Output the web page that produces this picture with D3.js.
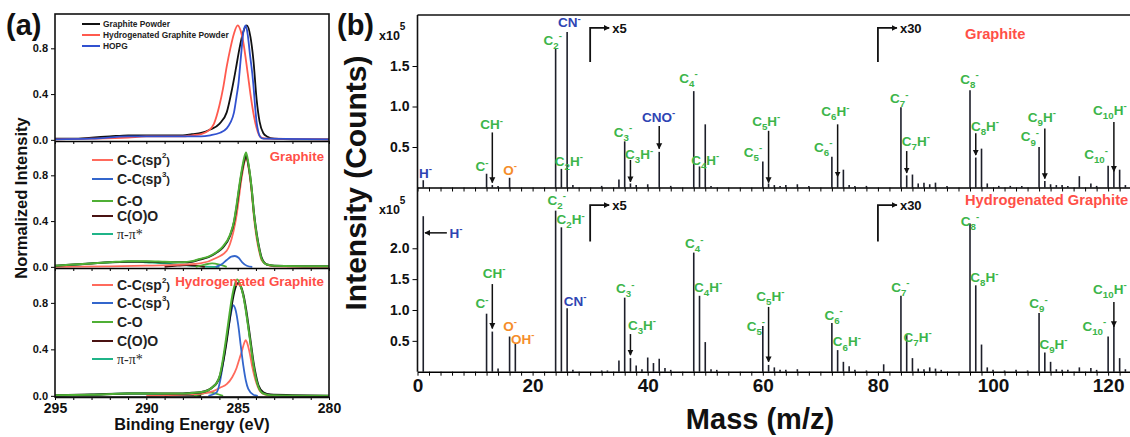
<!DOCTYPE html>
<html>
<head>
<meta charset="utf-8">
<script src="https://cdn.jsdelivr.net/npm/d3@7/dist/d3.min.js"></script>
<style>
  body { margin: 0; background: #fff; }
  svg text { font-family: Arial, "Liberation Sans", sans-serif; font-weight: bold; }
</style>
</head>
<body>
<svg id="chart" width="1130" height="437"></svg>
<script>
// ===== (a) XPS C1s : [binding energy (eV), normalized intensity] =====
const beTicks = [295, 290, 285, 280];
const normTicks = [0.0, 0.4, 0.8];

const powderNames = ["Graphite Powder", "Hydrogenated Graphite Powder", "HOPG"];
const graphitePowder = [[295,0.01],[294,0.01],[293,0.02],[292,0.03],[291,0.04],[290,0.04],[289,0.04],[288,0.04],[287.5,0.05],[287,0.06],[286.5,0.09],[286,0.14],[285.6,0.24],[285.3,0.45],[285.1,0.62],[284.9,0.8],[284.7,0.94],[284.5,1.0],[284.3,0.9],[284.14,0.7],[283.96,0.35],[283.8,0.16],[283.6,0.06],[283.4,0.03],[283,0.01],[282,0.005],[280,0.005]];
const hydroPowder = [[295,0.005],[293,0.01],[291,0.02],[290,0.03],[289,0.03],[288,0.03],[287.5,0.04],[287,0.05],[286.6,0.08],[286.3,0.14],[286,0.3],[285.8,0.45],[285.6,0.64],[285.4,0.8],[285.2,0.93],[285,1.0],[284.85,0.96],[284.7,0.86],[284.45,0.58],[284.3,0.4],[284.1,0.2],[283.9,0.07],[283.7,0.02],[283.4,0.01],[280,0.005]];
const hopg = [[295,0.005],[293,0.01],[291,0.03],[290,0.03],[289,0.03],[288,0.03],[287,0.03],[286.5,0.04],[286,0.06],[285.6,0.1],[285.4,0.15],[285.2,0.24],[285.06,0.38],[284.95,0.5],[284.87,0.64],[284.78,0.8],[284.69,0.94],[284.56,1.0],[284.45,0.92],[284.33,0.75],[284.2,0.58],[284.14,0.48],[284.05,0.3],[283.96,0.15],[283.87,0.07],[283.78,0.03],[283.6,0.01],[280,0.005]];

const fitNames = ["C-C(sp^2)", "C-C(sp^3)", "C-O", "C(O)O", "π-π*"];
// graphite fit
const gData = [[295,0.01],[294,0.02],[293,0.03],[292,0.04],[291,0.045],[290,0.045],[289,0.04],[288,0.04],[287.5,0.045],[287.06,0.065],[286.6,0.085],[286.15,0.125],[285.8,0.17],[285.42,0.27],[285.2,0.39],[285.06,0.52],[284.9,0.7],[284.78,0.82],[284.65,0.92],[284.54,0.97],[284.4,0.88],[284.24,0.69],[284.1,0.46],[283.96,0.29],[283.8,0.15],[283.69,0.08],[283.41,0.02],[283,0.01],[280,0.005]];
const gEnvelope = [[295,0.01],[294,0.02],[293,0.03],[292,0.04],[291,0.05],[290,0.05],[289,0.045],[288,0.04],[287.5,0.05],[287.06,0.07],[286.6,0.09],[286.15,0.13],[285.8,0.18],[285.42,0.28],[285.2,0.4],[285.06,0.54],[284.9,0.72],[284.78,0.84],[284.65,0.95],[284.54,1.0],[284.4,0.89],[284.24,0.69],[284.1,0.45],[283.96,0.28],[283.8,0.14],[283.69,0.07],[283.41,0.02],[283,0.01],[280,0.005]];
const gSp2 = [[295,0],[292,0.005],[290,0.01],[288,0.02],[287.06,0.03],[286.15,0.08],[285.6,0.14],[285.42,0.2],[285.06,0.45],[284.78,0.78],[284.6,0.93],[284.51,0.95],[284.4,0.86],[284.24,0.66],[284.1,0.42],[283.96,0.25],[283.8,0.12],[283.69,0.06],[283.41,0.02],[283,0.005],[280,0]];
const gSp3 = [[286.2,0],[285.9,0.02],[285.6,0.06],[285.35,0.09],[285.15,0.095],[284.95,0.08],[284.75,0.04],[284.5,0.01],[284.2,0]];
const gCO = [[287.3,0],[286.8,0.02],[286.4,0.03],[286,0.02],[285.6,0]];
const gCOO = [[289,0],[288.3,0.01],[287.8,0.015],[287.3,0.01],[286.8,0]];
const gPi = [[295,0.005],[294,0.015],[293,0.03],[292,0.04],[291,0.045],[290.5,0.045],[290,0.04],[289,0.03],[288,0.015],[287,0.005],[286,0]];
// hydrogenated graphite fit
const hData = [[295,0.005],[293,0.01],[291,0.02],[290,0.02],[289,0.02],[288,0.02],[287.5,0.025],[287.06,0.03],[286.6,0.05],[286.33,0.08],[286.15,0.11],[285.97,0.17],[285.8,0.29],[285.6,0.48],[285.45,0.65],[285.33,0.78],[285.15,0.92],[284.98,0.97],[284.85,0.95],[284.69,0.87],[284.55,0.75],[284.42,0.61],[284.28,0.45],[284.14,0.29],[284,0.17],[283.87,0.09],[283.6,0.03],[283.2,0.01],[282,0.005],[280,0]];
const hEnvelope = [[295,0.005],[293,0.01],[291,0.02],[290,0.02],[289,0.02],[288,0.02],[287.5,0.025],[287.06,0.03],[286.6,0.05],[286.33,0.08],[286.15,0.11],[285.97,0.18],[285.8,0.32],[285.6,0.53],[285.45,0.7],[285.33,0.83],[285.15,0.96],[285.02,1.0],[284.85,0.95],[284.69,0.86],[284.55,0.73],[284.42,0.59],[284.28,0.43],[284.14,0.27],[284,0.15],[283.87,0.08],[283.6,0.02],[283.2,0.005],[280,0]];
const hSp2 = [[290,0],[288,0.01],[287,0.02],[286.33,0.04],[285.97,0.07],[285.6,0.1],[285.3,0.16],[285.06,0.24],[284.9,0.32],[284.78,0.38],[284.65,0.45],[284.56,0.48],[284.45,0.44],[284.33,0.36],[284.2,0.25],[284.05,0.15],[283.9,0.08],[283.78,0.04],[283.5,0.01],[283,0]];
const hSp3 = [[286.6,0],[286.15,0.03],[285.97,0.12],[285.79,0.29],[285.65,0.44],[285.51,0.58],[285.38,0.7],[285.24,0.78],[285.1,0.73],[284.97,0.61],[284.83,0.43],[284.69,0.26],[284.55,0.13],[284.42,0.06],[284.14,0.01],[283.9,0]];
const hCO = [[287.4,0],[287,0.015],[286.6,0.03],[286.2,0.02],[285.8,0]];
const hCOO = [[289,0],[288.3,0.008],[287.6,0.01],[287,0]];
const hPi = [[295,0],[293,0.01],[291,0.02],[290,0.02],[289,0.015],[288,0.01],[287,0]];

// ===== (b) SIMS negative ions : [m/z, counts x10^5] =====
const massTicks = [0, 20, 40, 60, 80, 100, 120];
const topCountTicks = [0.5, 1.0, 1.5];
const botCountTicks = [0.5, 1.0, 1.5, 2.0];

const graphitePeaks = [[1,0.09],[12,0.17],[13,0.03],[14,0.02],[16,0.12],[24,1.71],[25,0.23],[26,1.92],[27,0.03],[32,0.02],[35,0.10],[36,0.57],[37,0.05],[38,0.03],[40,0.04],[42,0.44],[44,0.02],[48,1.19],[49,0.26],[50,0.78],[51,0.02],[60,0.32],[61,0.05],[62,0.03],[63,0.02],[64,0.03],[66,0.04],[68,0.02],[72,0.38],[73,0.13],[74,0.22],[75,0.03],[76,0.02],[78,0.02],[84,0.99],[85,0.15],[86,0.16],[87,0.05],[88,0.06],[89,0.04],[90,0.06],[92,0.02],[96,1.20],[97,0.37],[98,0.48],[99,0.05],[101,0.02],[103,0.02],[105,0.02],[108,0.50],[109,0.08],[110,0.04],[111,0.03],[112,0.03],[113,0.02],[115,0.14],[117,0.05],[118,0.02],[120,0.27],[121,0.24],[122,0.22],[123,0.03]];
const hydroPeaks = [[1,2.52],[12,0.94],[13,0.65],[14,0.05],[16,0.57],[17,0.45],[24,2.61],[25,2.34],[26,1.03],[27,0.03],[32,0.02],[33,0.02],[35,0.18],[36,1.20],[37,0.22],[38,0.10],[39,0.04],[40,0.23],[41,0.14],[42,0.21],[43,0.06],[44,0.03],[48,1.93],[49,1.23],[50,0.48],[51,0.04],[52,0.03],[60,0.74],[61,0.11],[62,0.07],[63,0.03],[64,0.03],[66,0.04],[72,0.79],[73,0.35],[74,0.16],[75,0.09],[76,0.03],[78,0.02],[81,0.12],[84,1.23],[85,0.60],[86,0.22],[87,0.05],[88,0.04],[89,0.07],[90,0.05],[91,0.03],[96,2.40],[97,1.40],[98,0.44],[99,0.07],[100,0.03],[102,0.02],[104,0.03],[106,0.02],[108,0.95],[109,0.31],[110,0.16],[111,0.04],[112,0.03],[113,0.03],[115,0.07],[117,0.06],[118,0.03],[120,0.57],[121,0.76],[122,0.22],[123,0.04]];

// ion labels: [formula, m/z, counts, colour]
const graphiteLabels = [["H-",1.4,0.18,"b"],["C-",11.2,0.26,"g"],["CH-",12.9,0.78,"g"],["O-",16.1,0.22,"o"],["C2-",23.5,1.82,"g"],["CN-",26.4,2.04,"b"],["C2H-",26.3,0.33,"g"],["C3-",35.7,0.69,"g"],["C3H-",38.5,0.41,"g"],["CNO-",41.9,0.87,"b"],["C4-",47.1,1.35,"g"],["C4H-",50,0.34,"g"],["C5-",58.3,0.44,"g"],["C5H-",60.6,0.82,"g"],["C6-",70.5,0.5,"g"],["C6H-",72.6,0.94,"g"],["C7-",83.7,1.1,"g"],["C7H-",86.6,0.58,"g"],["C8-",95.9,1.34,"g"],["C8H-",98.6,0.76,"g"],["C9-",106.4,0.63,"g"],["C9H-",108.5,0.87,"g"],["C10-",117.9,0.41,"g"],["C10H-",120.3,0.96,"g"]];
const hydroLabels = [["H-",6.7,2.25,"b"],["CH-",13.3,1.6,"g"],["C-",11.2,1.11,"g"],["O-",16.1,0.74,"o"],["OH-",18.3,0.53,"o"],["C2-",24.2,2.79,"g"],["C2H-",26.6,2.47,"g"],["CN-",27.4,1.15,"b"],["C3-",36.1,1.35,"g"],["C3H-",39,0.76,"g"],["C4-",48.1,2.08,"g"],["C4H-",50.5,1.38,"g"],["C5-",58.8,0.74,"g"],["C5H-",61.3,1.23,"g"],["C6-",72.3,0.92,"g"],["C6H-",74.6,0.49,"g"],["C7-",83.9,1.38,"g"],["C7H-",86.9,0.57,"g"],["C8-",96.0,2.45,"g"],["C8H-",98.5,1.53,"g"],["C9-",107.9,1.11,"g"],["C9H-",110.5,0.45,"g"],["C10-",117.6,0.74,"g"],["C10H-",120.3,1.34,"g"]];

// arrows: [m/z, from counts, to counts]
const graphiteArrows = [[13,0.68,0.06],[37,0.34,0.07],[42,0.76,0.48],[61,0.70,0.06],[73,0.78,0.13],[85,0.45,0.18],[97,0.67,0.40],[109,0.73,0.11],[121,0.81,0.20]];
const hydroArrows = [[13,1.42,0.70],[37,0.61,0.27],[61,1.05,0.16],[121,1.13,0.73]];
const hydroSideArrow = [5.1, 1.3, 2.25]; // H- : from m/z, to m/z, at counts
// scale change markers: [m/z, factor, lower counts, upper counts]
const graphiteScale = [[30,"x5",1.55,1.97],[80,"x30",1.55,1.97]];
const hydroScale = [[30,"x5",2.11,2.70],[80,"x30",2.11,2.70]];

const ionColor = { g: "#3cb54a", b: "#2e44b3", o: "#f58d2b" };

const svg = d3.select("#chart");

const defs = svg.append("defs");
defs.append("marker").attr("id", "ah")
    .attr("viewBox", "0 0 10 10").attr("refX", 9).attr("refY", 5)
    .attr("markerWidth", 6).attr("markerHeight", 7).attr("markerUnits", "userSpaceOnUse")
    .attr("orient", "auto")
    .append("path").attr("d", "M0,0L10,5L0,10z").attr("fill", "#111");

// formula text: digits as subscript, '-' as superscript
function formula(g, str, x, y, color, fs) {
    const t = g.append("text").attr("x", x).attr("y", y)
        .attr("text-anchor", "middle").attr("fill", color).style("font-size", fs + "px");
    let shift = 0;
    str.match(/\d+|-|[^\d-]+/g).forEach(tok => {
        let target = 0, size = fs;
        if (/^\d+$/.test(tok)) { target = fs * 0.3; size = fs * 0.72; }
        else if (tok === "-") { target = -fs * 0.42; size = fs * 0.72; }
        t.append("tspan").attr("dy", target - shift).style("font-size", size + "px").text(tok);
        shift = target;
    });
    return t;
}

// ================= panel (a) =================
const xBE = d3.scaleLinear().domain([295, 280]).range([55, 329]);
const panelsA = [{ top: 14, bottom: 141 }, { top: 141, bottom: 268 }, { top: 268, bottom: 397 }];
const yA = panelsA.map(p => d3.scaleLinear().domain([-0.01, 1.1]).range([p.bottom, p.top]));

panelsA.forEach((p, i) => {
    defs.append("clipPath").attr("id", "clipA" + i)
        .append("rect").attr("x", 55).attr("y", p.top).attr("width", 274).attr("height", p.bottom - p.top);
});

function drawCurves(i, list) {
    const line = d3.line().x(d => xBE(d[0])).y(d => yA[i](d[1])).curve(d3.curveMonotoneX);
    svg.append("g").attr("clip-path", `url(#clipA${i})`)
        .selectAll("path").data(list).enter().append("path")
        .attr("d", d => line(d.data))
        .attr("fill", "none")
        .attr("stroke", d => d.color)
        .attr("stroke-width", d => d.w || 1.8);
}

const cBlack = "#111", cRed = "#ff5a4e", cBlue = "#3151d0";
const cSp2 = "#ff6a5c", cSp3 = "#3366cc", cCO = "#4faf35", cCOO = "#4a1212", cPi = "#1fb488";

drawCurves(0, [
    { data: graphitePowder, color: cBlack },
    { data: hydroPowder, color: cRed },
    { data: hopg, color: cBlue }
]);
drawCurves(1, [
    { data: gPi, color: cPi },
    { data: gCOO, color: cCOO },
    { data: gCO, color: cCO },
    { data: gSp3, color: cSp3 },
    { data: gSp2, color: cSp2 },
    { data: gData, color: cBlack, w: 2 },
    { data: gEnvelope, color: cCO, w: 2 }
]);
drawCurves(2, [
    { data: hPi, color: cPi },
    { data: hCOO, color: cCOO },
    { data: hCO, color: cCO },
    { data: hSp2, color: cSp2 },
    { data: hSp3, color: cSp3 },
    { data: hData, color: cBlack, w: 2.2 },
    { data: hEnvelope, color: cCO, w: 2 }
]);

// axes of (a)
panelsA.forEach((p, i) => {
    const last = i === panelsA.length - 1;
    const ax = svg.append("g").attr("transform", `translate(0,${p.bottom})`)
        .call(d3.axisBottom(xBE).tickValues(d3.range(295, 279, -1)).tickSize(3).tickSizeOuter(0)
            .tickFormat(d => (last && beTicks.includes(d)) ? d : ""));
    ax.selectAll("text").style("font-size", "14px").attr("fill", "#111");
    const ay = svg.append("g").attr("transform", "translate(55,0)")
        .call(d3.axisLeft(yA[i]).tickValues(normTicks).tickSize(4).tickSizeOuter(0).tickFormat(d3.format(".1f")));
    ay.select(".domain").remove();
    ay.selectAll("text").style("font-size", "11px").attr("fill", "#111");
});
svg.selectAll(".domain").attr("stroke-width", 1.5);
svg.append("rect").attr("x", 55).attr("y", 14).attr("width", 274).attr("height", 383)
    .attr("fill", "none").attr("stroke", "#111").attr("stroke-width", 1.6);

// legends of (a)
const legTop = svg.append("g");
powderNames.forEach((n, i) => {
    const y = 24 + i * 11;
    legTop.append("line").attr("x1", 82).attr("x2", 100).attr("y1", y).attr("y2", y)
        .attr("stroke", [cBlack, cRed, cBlue][i]).attr("stroke-width", 2);
    legTop.append("text").attr("x", 103).attr("y", y + 3).style("font-size", "8.4px").attr("fill", "#222").text(n);
});

function fitLegend(rows, sample) {
    const g = svg.append("g");
    fitNames.forEach((n, i) => {
        const y = rows[i];
        g.append("line").attr("x1", 92).attr("x2", 113).attr("y1", y).attr("y2", y)
            .attr("stroke", [cSp2, cSp3, cCO, cCOO, cPi][i]).attr("stroke-width", 2);
        const t = g.append("text").attr("x", 117).attr("y", y + 5).style("font-size", "14px").attr("fill", "#222");
        const m = n.match(/^C-C\(sp\^(\d)\)$/);
        if (m) {
            t.append("tspan").text("C-C");
            t.append("tspan").style("font-size", "11px").text("(");
            t.append("tspan").text("sp");
            t.append("tspan").attr("dy", -7).style("font-size", "8px").text(m[1]);
            t.append("tspan").attr("dy", 7).style("font-size", "11px").text(")");
        } else if (n.startsWith("π")) {
            t.style("font-family", "'Liberation Serif', 'DejaVu Serif', serif").style("font-weight", "normal")
                .style("font-size", "14px").text(n);
        } else {
            t.text(n);
        }
    });
    g.append("text").attr("x", 324).attr("y", sample.y).attr("text-anchor", "end")
        .attr("fill", "#ff4f47").style("font-size", sample.fs + "px").text(sample.text);
}
fitLegend([160, 179, 201, 216, 234], { text: "Graphite", y: 161, fs: 13.2 });
fitLegend([285, 303, 322, 341, 359], { text: "Hydrogenated Graphite", y: 286, fs: 13.4 });

svg.append("text").attr("x", 6).attr("y", 35).style("font-size", "29px").attr("fill", "#111").text("(a)");
svg.append("text").attr("x", 192).attr("y", 430).attr("text-anchor", "middle")
    .style("font-size", "16.3px").attr("fill", "#111").text("Binding Energy (eV)");
svg.append("text").attr("transform", "translate(27,198) rotate(-90)").attr("text-anchor", "middle")
    .style("font-size", "16.5px").attr("fill", "#111").text("Normalized Intensity");

// ================= panel (b) =================
const xM = d3.scaleLinear().domain([0, 123.8]).range([417.5, 1130]);
const panelsB = [
    { y: d3.scaleLinear().domain([0, 2.13]).range([187.5, 15]), ticks: topCountTicks, peaks: graphitePeaks,
      labels: graphiteLabels, arrows: graphiteArrows, scale: graphiteScale, exp: 40, name: "Graphite", nameY: 39 },
    { y: d3.scaleLinear().domain([0, 2.985]).range([371.7, 187.5]), ticks: botCountTicks, peaks: hydroPeaks,
      labels: hydroLabels, arrows: hydroArrows, scale: hydroScale, exp: 214, name: "Hydrogenated Graphite", nameY: 205 }
];

panelsB.forEach((p, i) => {
    const last = i === panelsB.length - 1;
    const base = p.y(0);

    // peaks
    svg.append("g").selectAll("line").data(p.peaks).enter().append("line")
        .attr("x1", d => xM(d[0])).attr("x2", d => xM(d[0]))
        .attr("y1", base).attr("y2", d => p.y(d[1]))
        .attr("stroke", "#1d1f2a").attr("stroke-width", 1.6);

    // x axis
    const ax = svg.append("g").attr("transform", `translate(0,${base})`)
        .call(d3.axisBottom(xM).tickValues(d3.range(0, 124, 2)).tickSize(4).tickSizeOuter(0)
            .tickFormat(d => (last && massTicks.includes(d)) ? d : ""));
    ax.select(".domain").attr("stroke-width", 1.6);
    ax.selectAll("text").style("font-size", "19px").attr("fill", "#111");

    // y axis
    const ay = svg.append("g").attr("transform", "translate(417.5,0)")
        .call(d3.axisLeft(p.y).tickValues(p.ticks).tickSize(5).tickSizeOuter(0).tickFormat(d3.format(".1f")));
    ay.select(".domain").remove();
    ay.selectAll("text").style("font-size", "14px").attr("fill", "#111");

    // x10^5
    const e = svg.append("text").attr("x", 379).attr("y", p.exp).style("font-size", "12.5px").attr("fill", "#111");
    e.append("tspan").text("x10");
    e.append("tspan").attr("dy", -10).style("font-size", "10px").text("5");

    // ion labels
    const lg = svg.append("g");
    p.labels.forEach(d => formula(lg, d[0], xM(d[1]), p.y(d[2]) + 5, ionColor[d[3]], 13.5));

    // arrows
    svg.append("g").selectAll("line").data(p.arrows).enter().append("line")
        .attr("x1", d => xM(d[0])).attr("x2", d => xM(d[0]))
        .attr("y1", d => p.y(d[1])).attr("y2", d => p.y(d[2]))
        .attr("stroke", "#111").attr("stroke-width", 1.5).attr("marker-end", "url(#ah)");

    // scale change markers
    p.scale.forEach(s => {
        const x0 = xM(s[0]), yLo = p.y(s[2]), yHi = p.y(s[3]);
        svg.append("path").attr("d", `M${x0},${yLo}V${yHi}H${x0 + 19}`)
            .attr("fill", "none").attr("stroke", "#111").attr("stroke-width", 1.8).attr("marker-end", "url(#ah)");
        svg.append("text").attr("x", x0 + 22).attr("y", yHi + 5).style("font-size", "13px")
            .attr("fill", "#111").text(s[1]);
    });

    svg.append("text").attr("x", 965).attr("y", p.nameY).attr("fill", "#ff4f47")
        .style("font-size", "14.7px").text(p.name);
});

// H- sideways arrow in lower panel
svg.append("line")
    .attr("x1", xM(hydroSideArrow[0])).attr("x2", xM(hydroSideArrow[1]))
    .attr("y1", panelsB[1].y(hydroSideArrow[2])).attr("y2", panelsB[1].y(hydroSideArrow[2]))
    .attr("stroke", "#111").attr("stroke-width", 1.5).attr("marker-end", "url(#ah)");

// frame of (b)
svg.append("line").attr("x1", 417.5).attr("x2", 417.5).attr("y1", 15).attr("y2", 371.7)
    .attr("stroke", "#111").attr("stroke-width", 1.6);
svg.append("line").attr("x1", 417.5).attr("x2", 1130).attr("y1", 15).attr("y2", 15)
    .attr("stroke", "#111").attr("stroke-width", 1.6);

svg.append("text").attr("x", 337).attr("y", 35).style("font-size", "29px").attr("fill", "#111").text("(b)");
svg.append("text").attr("x", 760).attr("y", 429).attr("text-anchor", "middle")
    .style("font-size", "29px").attr("fill", "#111").text("Mass (m/z)");
svg.append("text").attr("transform", "translate(366,183) rotate(-90)").attr("text-anchor", "middle")
    .style("font-size", "30px").attr("fill", "#111").text("Intensity (Counts)");
</script>
</body>
</html>
